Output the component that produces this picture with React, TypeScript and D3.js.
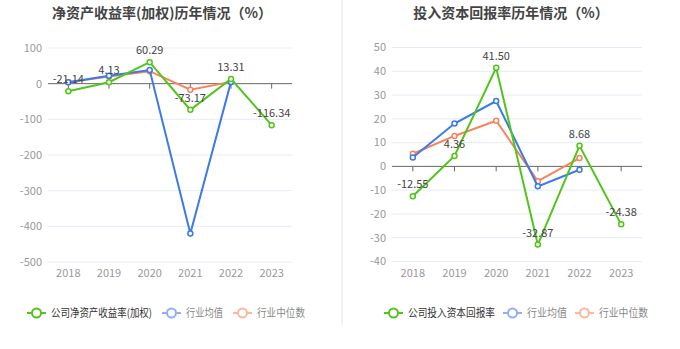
import React from "react";
import * as d3 from "d3";

const years = ["2018", "2019", "2020", "2021", "2022", "2023"];

const roeCompany = [-21.14, 4.13, 60.29, -73.17, 13.31, -116.34];
const roeAvg = [4, 22, 38, -420, 5, null];
const roeMedian = [4, 20, 35, -17, 5, null];
const roeTicks = [100, 0, -100, -200, -300, -400, -500];

const roicCompany = [-12.55, 4.36, 41.5, -32.87, 8.68, -24.38];
const roicAvg = [3.7, 18, 27.5, -8.4, -1.4, null];
const roicMedian = [5.3, 12.8, 19.2, -6.2, 3.5, null];
const roicTicks = [50, 40, 30, 20, 10, 0, -10, -20, -30, -40];

const GREEN = "#52C41A";
const BLUE = "#3B7AE8";
const ORANGE = "#F7845E";
const FONT = "'Noto Sans CJK SC', 'Noto Sans', sans-serif";

type PanelProps = {
  title: string;
  titleX: number;
  x0: number;
  x1: number;
  yTop: number;
  yBottom: number;
  domain: [number, number];
  ticks: number[];
  company: (number | null)[];
  avg: (number | null)[];
  median: (number | null)[];
  legendName: string;
  legendX: number[];
  legendW: number[];
};

function Panel(p: PanelProps) {
  const x = d3.scaleBand<string>().domain(years).range([p.x0, p.x1]);
  const cx = (y: string) => (x(y) as number) + x.bandwidth() / 2;
  const y = d3.scaleLinear().domain(p.domain).range([p.yBottom, p.yTop]);
  const mk = (vals: (number | null)[]) =>
    d3
      .line<number | null>()
      .defined((d) => d !== null)
      .x((_, i) => cx(years[i]))
      .y((d) => y(d as number))(vals) || "";
  const series = [
    { vals: p.median, color: ORANGE },
    { vals: p.avg, color: BLUE },
    { vals: p.company, color: GREEN },
  ];
  const legendItems = [
    { name: p.legendName, color: GREEN, text: "#333" },
    { name: "行业均值", color: "#8FB0F2", text: "#888" },
    { name: "行业中位数", color: "#F9B8A0", text: "#888" },
  ];
  return (
    <g>
      <text
        x={p.titleX}
        y={18}
        textAnchor="middle"
        fontSize={14}
        fontWeight="bold"
        fill="#444"
        fontFamily={FONT}
      >
        {p.title}
      </text>
      {p.ticks.map((t) => (
        <g key={t}>
          {t !== 0 && (
            <line x1={p.x0} x2={p.x1} y1={y(t)} y2={y(t)} stroke="#E6EBF5" strokeWidth={1} />
          )}
          <text
            x={p.x0 - 6}
            y={y(t)}
            dy="0.35em"
            textAnchor="end"
            fontSize={11}
            fill="#999"
            fontFamily={FONT}
          >
            {t}
          </text>
        </g>
      ))}
      <line x1={p.x0} x2={p.x1} y1={y(0)} y2={y(0)} stroke="#666" strokeWidth={1} />
      {years.map((yr) => (
        <g key={yr}>
          <line x1={cx(yr)} x2={cx(yr)} y1={y(0)} y2={y(0) + 5} stroke="#666" />
          <text
            x={cx(yr)}
            y={p.yBottom + 15}
            textAnchor="middle"
            fontSize={11}
            fill="#999"
            fontFamily={FONT}
          >
            {yr}
          </text>
        </g>
      ))}
      {series.map((s, si) => (
        <g key={si}>
          <path d={mk(s.vals)} fill="none" stroke={s.color} strokeWidth={2} />
          {s.vals.map((v, i) =>
            v === null ? null : (
              <circle
                key={i}
                cx={cx(years[i])}
                cy={y(v)}
                r={2.5}
                fill="#fff"
                stroke={s.color}
                strokeWidth={1.5}
              />
            )
          )}
        </g>
      ))}
      {p.company.map((v, i) =>
        v === null ? null : (
          <text
            key={i}
            x={cx(years[i])}
            y={y(v) - 8}
            textAnchor="middle"
            fontSize={11}
            fill="#444"
            fontFamily={FONT}
          >
            {v.toFixed(2)}
          </text>
        )
      )}
      {legendItems.map((it, i) => (
        <g key={i} transform={`translate(${p.legendX[i]},313)`}>
          <line x1={0} x2={19} y1={0} y2={0} stroke={it.color} strokeWidth={2} />
          <circle cx={9.5} cy={0} r={4.5} fill="#fff" stroke={it.color} strokeWidth={2} />
          <text
            x={24}
            y={0}
            dy="0.35em"
            fontSize={11}
            fill={it.text}
            fontFamily={FONT}
            textLength={p.legendW[i]}
            lengthAdjust="spacingAndGlyphs"
          >
            {it.name}
          </text>
        </g>
      ))}
    </g>
  );
}

export default function App() {
  return (
    <svg
      width={680}
      height={349}
      style={{ position: "absolute", left: 0, top: 0, background: "#fff" }}
    >
      <rect width={680} height={349} fill="#fff" />
      <line x1={342} x2={342} y1={0} y2={325} stroke="#F2F2F2" strokeWidth={2} />
      <Panel
        title="净资产收益率(加权)历年情况（%）"
        titleX={162}
        x0={48}
        x1={292}
        yTop={48}
        yBottom={262}
        domain={[-500, 100]}
        ticks={roeTicks}
        company={roeCompany}
        avg={roeAvg}
        median={roeMedian}
        legendName="公司净资产收益率(加权)"
        legendX={[27, 162, 233]}
        legendW={[101, 37, 48]}
      />
      <Panel
        title="投入资本回报率历年情况（%）"
        titleX={511}
        x0={392}
        x1={642}
        yTop={47.5}
        yBottom={261.5}
        domain={[-40, 50]}
        ticks={roicTicks}
        company={roicCompany}
        avg={roicAvg}
        median={roicMedian}
        legendName="公司投入资本回报率"
        legendX={[384, 503, 575]}
        legendW={[87, 40, 49]}
      />
    </svg>
  );
}
